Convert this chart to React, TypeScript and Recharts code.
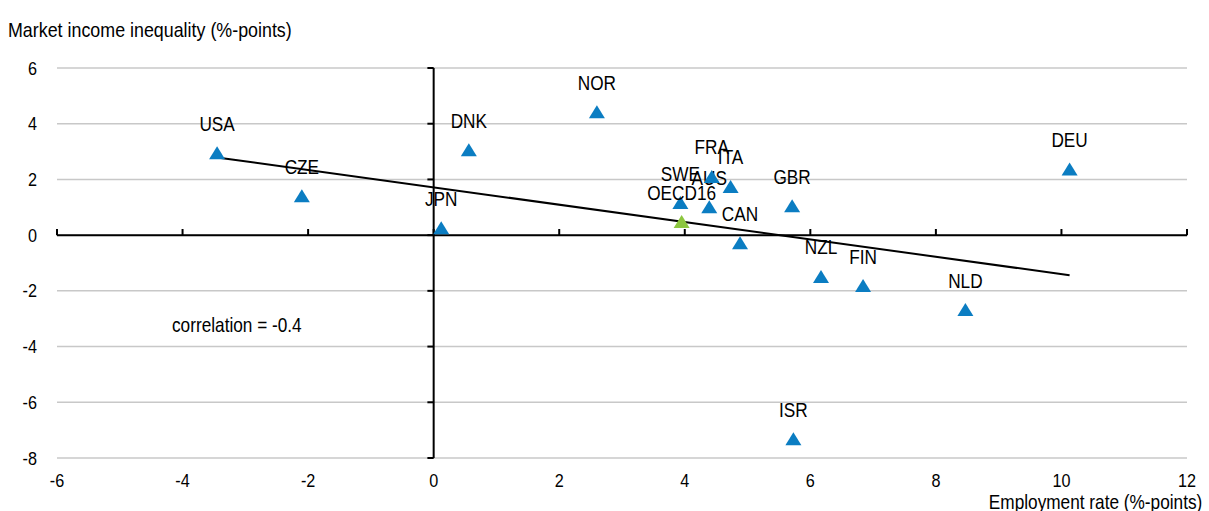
import {
  CartesianGrid,
  ReferenceLine,
  Scatter,
  ScatterChart,
  XAxis,
  YAxis,
} from "recharts";

const countries = ["USA", "CZE", "JPN", "DNK", "NOR", "SWE", "AUS", "FRA", "ITA", "CAN", "GBR", "NZL", "FIN", "NLD", "DEU", "ISR"];
const employment = [-3.45, -2.1, 0.12, 0.56, 2.6, 3.93, 4.39, 4.43, 4.73, 4.88, 5.71, 6.17, 6.84, 8.47, 10.13, 5.73];
const inequality = [2.94, 1.4, 0.25, 3.05, 4.41, 1.15, 1.0, 2.09, 1.73, -0.29, 1.04, -1.5, -1.83, -2.69, 2.36, -7.33];

const oecdName = ["OECD16"];
const oecdEmployment = [3.95];
const oecdInequality = [0.47];

// fitted line
const trendX = [-3.45, 10.13];
const trendY = [2.79, -1.44];

const xTicks = [-6, -4, -2, 0, 2, 4, 6, 8, 10, 12];
const yTicks = [-8, -6, -4, -2, 0, 2, 4, 6];

// no narrow face installed, so squeeze Liberation Sans horizontally
const FONT = '"Liberation Sans", Arial, sans-serif';
const SQUEEZE = 0.82;
const BLUE = "#0b7dc2";
const GREEN = "#8cc63f";

const points = countries.map((name, i) => ({ name, x: employment[i], y: inequality[i] }));
const oecd = oecdName.map((name, i) => ({ name, x: oecdEmployment[i], y: oecdInequality[i] }));
const trend = trendX.map((x, i) => ({ x, y: trendY[i] }));

function marker(color: string) {
  return (props: any) => {
    const { cx, cy, payload } = props;
    return (
      <g>
        <polygon
          points={`${cx},${cy - 7} ${cx - 8},${cy + 6} ${cx + 8},${cy + 6}`}
          fill={color}
        />
        <text
          transform={`translate(${cx} ${cy - 22.5}) scale(${SQUEEZE} 1)`}
          textAnchor="middle"
          fontSize={21}
          fontFamily={FONT}
          fill="#000"
        >
          {payload.name}
        </text>
      </g>
    );
  };
}

function XTick(props: any) {
  const { x, y, payload } = props;
  return (
    <text
      transform={`translate(${x} ${y + 13}) scale(0.9 1)`}
      textAnchor="middle"
      fontSize={18}
      fontFamily={FONT}
      fill="#000"
    >
      {payload.value}
    </text>
  );
}

function YTick(props: any) {
  const { x, y, payload } = props;
  return (
    <text
      transform={`translate(${x} ${y + 6.5}) scale(0.9 1)`}
      textAnchor="end"
      fontSize={18}
      fontFamily={FONT}
      fill="#000"
    >
      {payload.value}
    </text>
  );
}

const textStyle = (origin: string): any => ({
  position: "absolute",
  fontFamily: FONT,
  fontSize: 21,
  lineHeight: "24px",
  color: "#000",
  whiteSpace: "nowrap",
  transform: `scaleX(${SQUEEZE})`,
  transformOrigin: origin,
});

export default function App() {
  return (
    <div style={{ position: "absolute", left: 0, top: 0, width: 1209, height: 511, background: "#fff", overflow: "hidden" }}>
      <div style={{ ...textStyle("left"), left: 8, top: 18, transform: "scaleX(0.85)" }}>
        Market income inequality (%-points)
      </div>
      <div style={{ ...textStyle("right"), right: 7, top: 490 }}>
        Employment rate (%-points)
      </div>
      <div style={{ ...textStyle("left"), left: 172, top: 313 }}>
        correlation = -0.4
      </div>
      <ScatterChart
        width={1209}
        height={511}
        margin={{ top: 68, right: 22, bottom: 23, left: 0 }}
      >
        <CartesianGrid vertical={false} stroke="#c8c8c8" strokeWidth={1.5} />
        <XAxis
          type="number"
          dataKey="x"
          domain={[-6, 12]}
          ticks={xTicks}
          axisLine={false}
          tickLine={false}
          tickMargin={10}
          height={30}
          interval={0}
          tick={<XTick />}
        />
        <YAxis
          type="number"
          dataKey="y"
          domain={[-8, 6]}
          ticks={yTicks}
          axisLine={false}
          tickLine={false}
          tickMargin={14}
          width={57}
          interval={0}
          tick={<YTick />}
        />
        <ReferenceLine y={0} stroke="#000" strokeWidth={2} />
        <ReferenceLine x={0} stroke="#000" strokeWidth={2} />
        {xTicks.map((t) => (
          <ReferenceLine
            key={"xt" + t}
            segment={[{ x: t, y: 0 }, { x: t, y: 0.22 }]}
            stroke="#000"
            strokeWidth={2}
          />
        ))}
        {yTicks.map((t) => (
          <ReferenceLine
            key={"yt" + t}
            segment={[{ x: -0.1, y: t }, { x: 0, y: t }]}
            stroke="#000"
            strokeWidth={2}
          />
        ))}
        <Scatter
          data={trend}
          line={{ stroke: "#000", strokeWidth: 2 }}
          shape={() => null}
          isAnimationActive={false}
        />
        <Scatter data={points} shape={marker(BLUE)} isAnimationActive={false} />
        <Scatter data={oecd} shape={marker(GREEN)} isAnimationActive={false} />
      </ScatterChart>
    </div>
  );
}
